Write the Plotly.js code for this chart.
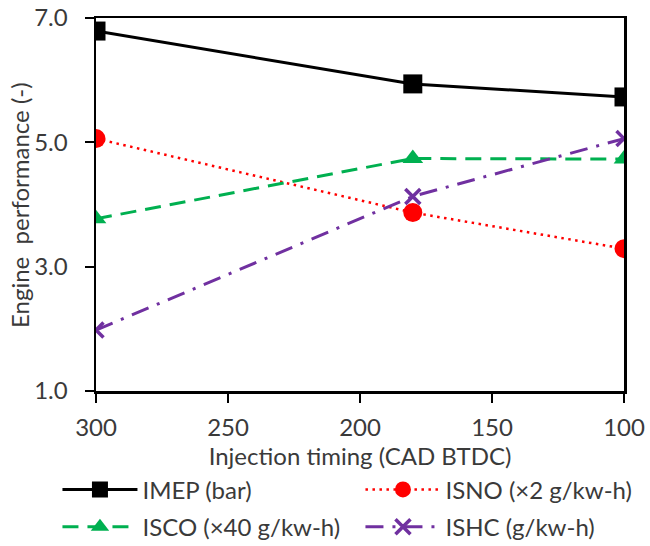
<!DOCTYPE html>
<html>
<head>
<meta charset="utf-8">
<script src="https://cdn.plot.ly/plotly-3.0.1.min.js"></script>
<style>html,body{margin:0;padding:0;background:#fff}#chart{width:650px;height:546px}</style>
</head>
<body>
<div id="chart"></div>
<script>
const timing = [300, 180, 100];
const imep = [6.79, 5.94, 5.73];
const isno = [5.06, 3.87, 3.29];
const isco = [3.77, 4.74, 4.73];
const ishc = [1.98, 4.13, 5.06];
const names = ['IMEP (bar)', 'ISNO (×2 g/kw-h)', 'ISCO (×40 g/kw-h)', 'ISHC (g/kw-h)'];
const yTicks = [1.0, 3.0, 5.0, 7.0];
const xTicks = [300, 250, 200, 150, 100];
const xTitle = 'Injection timing (CAD BTDC)';
const yTitle = 'Engine  performance (-)';

const font = 'Lato, "Open Sans", sans-serif';
const txt = '#3a3a3a';
const traces = [
  {x: timing, y: imep, name: names[0], mode: 'lines+markers', legend: 'legend',
   line: {color: '#000000', width: 3}, marker: {symbol: 'square', size: 19, color: '#000000'}},
  {x: timing, y: isno, name: names[1], mode: 'lines+markers', legend: 'legend',
   line: {color: '#FF0000', width: 2.5, dash: '2.5px,4.5px'}, marker: {symbol: 'circle', size: 19, color: '#FF0000'}},
  {x: timing, y: isco, name: names[2], mode: 'lines+markers', legend: 'legend2',
   line: {color: '#00B050', width: 3, dash: '16px,9px'}, marker: {symbol: 'triangle-up', size: 18, color: '#00B050'}},
  {x: timing, y: ishc, name: names[3], mode: 'lines+markers', legend: 'legend2',
   line: {color: '#7030A0', width: 3, dash: '18px,9px,3px,9px'}, marker: {symbol: 'x-thin', size: 15, color: '#7030A0', line: {color: '#7030A0', width: 3.5}}}
];
const legendBase = {orientation: 'h', xanchor: 'left', yanchor: 'middle',
  entrywidth: 213, entrywidthmode: 'pixels', itemwidth: 75, traceorder: 'normal',
  bgcolor: 'rgba(0,0,0,0)', font: {family: font, size: 24, color: txt}};
const layout = {
  width: 650, height: 546,
  margin: {l: 96, r: 26, t: 18, b: 155, autoexpand: false},
  paper_bgcolor: '#ffffff', plot_bgcolor: '#ffffff',
  font: {family: font, color: txt, size: 24},
  showlegend: true,
  legend: Object.assign({}, legendBase, {x: -0.073, y: -0.265}),
  legend2: Object.assign({}, legendBase, {x: -0.073, y: -0.365}),
  xaxis: {range: [300, 100], tickvals: xTicks, ticktext: xTicks.map(String),
    showgrid: false, zeroline: false, showline: true, linecolor: '#000', linewidth: 2.5, mirror: true,
    ticks: 'outside', ticklen: 9, tickwidth: 2, tickcolor: '#000', ticklabelstandoff: 5,
    tickfont: {size: 24, family: font, color: txt},
    title: {text: xTitle, font: {size: 24, family: font, color: txt}, standoff: 0}},
  yaxis: {range: [1, 7], tickvals: yTicks, ticktext: yTicks.map(v => v.toFixed(1)),
    showgrid: false, zeroline: false, showline: true, linecolor: '#000', linewidth: 2.5, mirror: true,
    ticks: 'outside', ticklen: 9, tickwidth: 2, tickcolor: '#000', ticklabelstandoff: 12,
    tickfont: {size: 24, family: font, color: txt}},
  annotations: [{text: yTitle, xref: 'paper', yref: 'paper', x: -0.145, y: 0.5,
    xanchor: 'center', yanchor: 'middle', textangle: -90, showarrow: false,
    font: {size: 24, family: font, color: txt}}]
};
Plotly.newPlot('chart', traces, layout, {displayModeBar: false, staticPlot: true});
</script>
</body>
</html>
